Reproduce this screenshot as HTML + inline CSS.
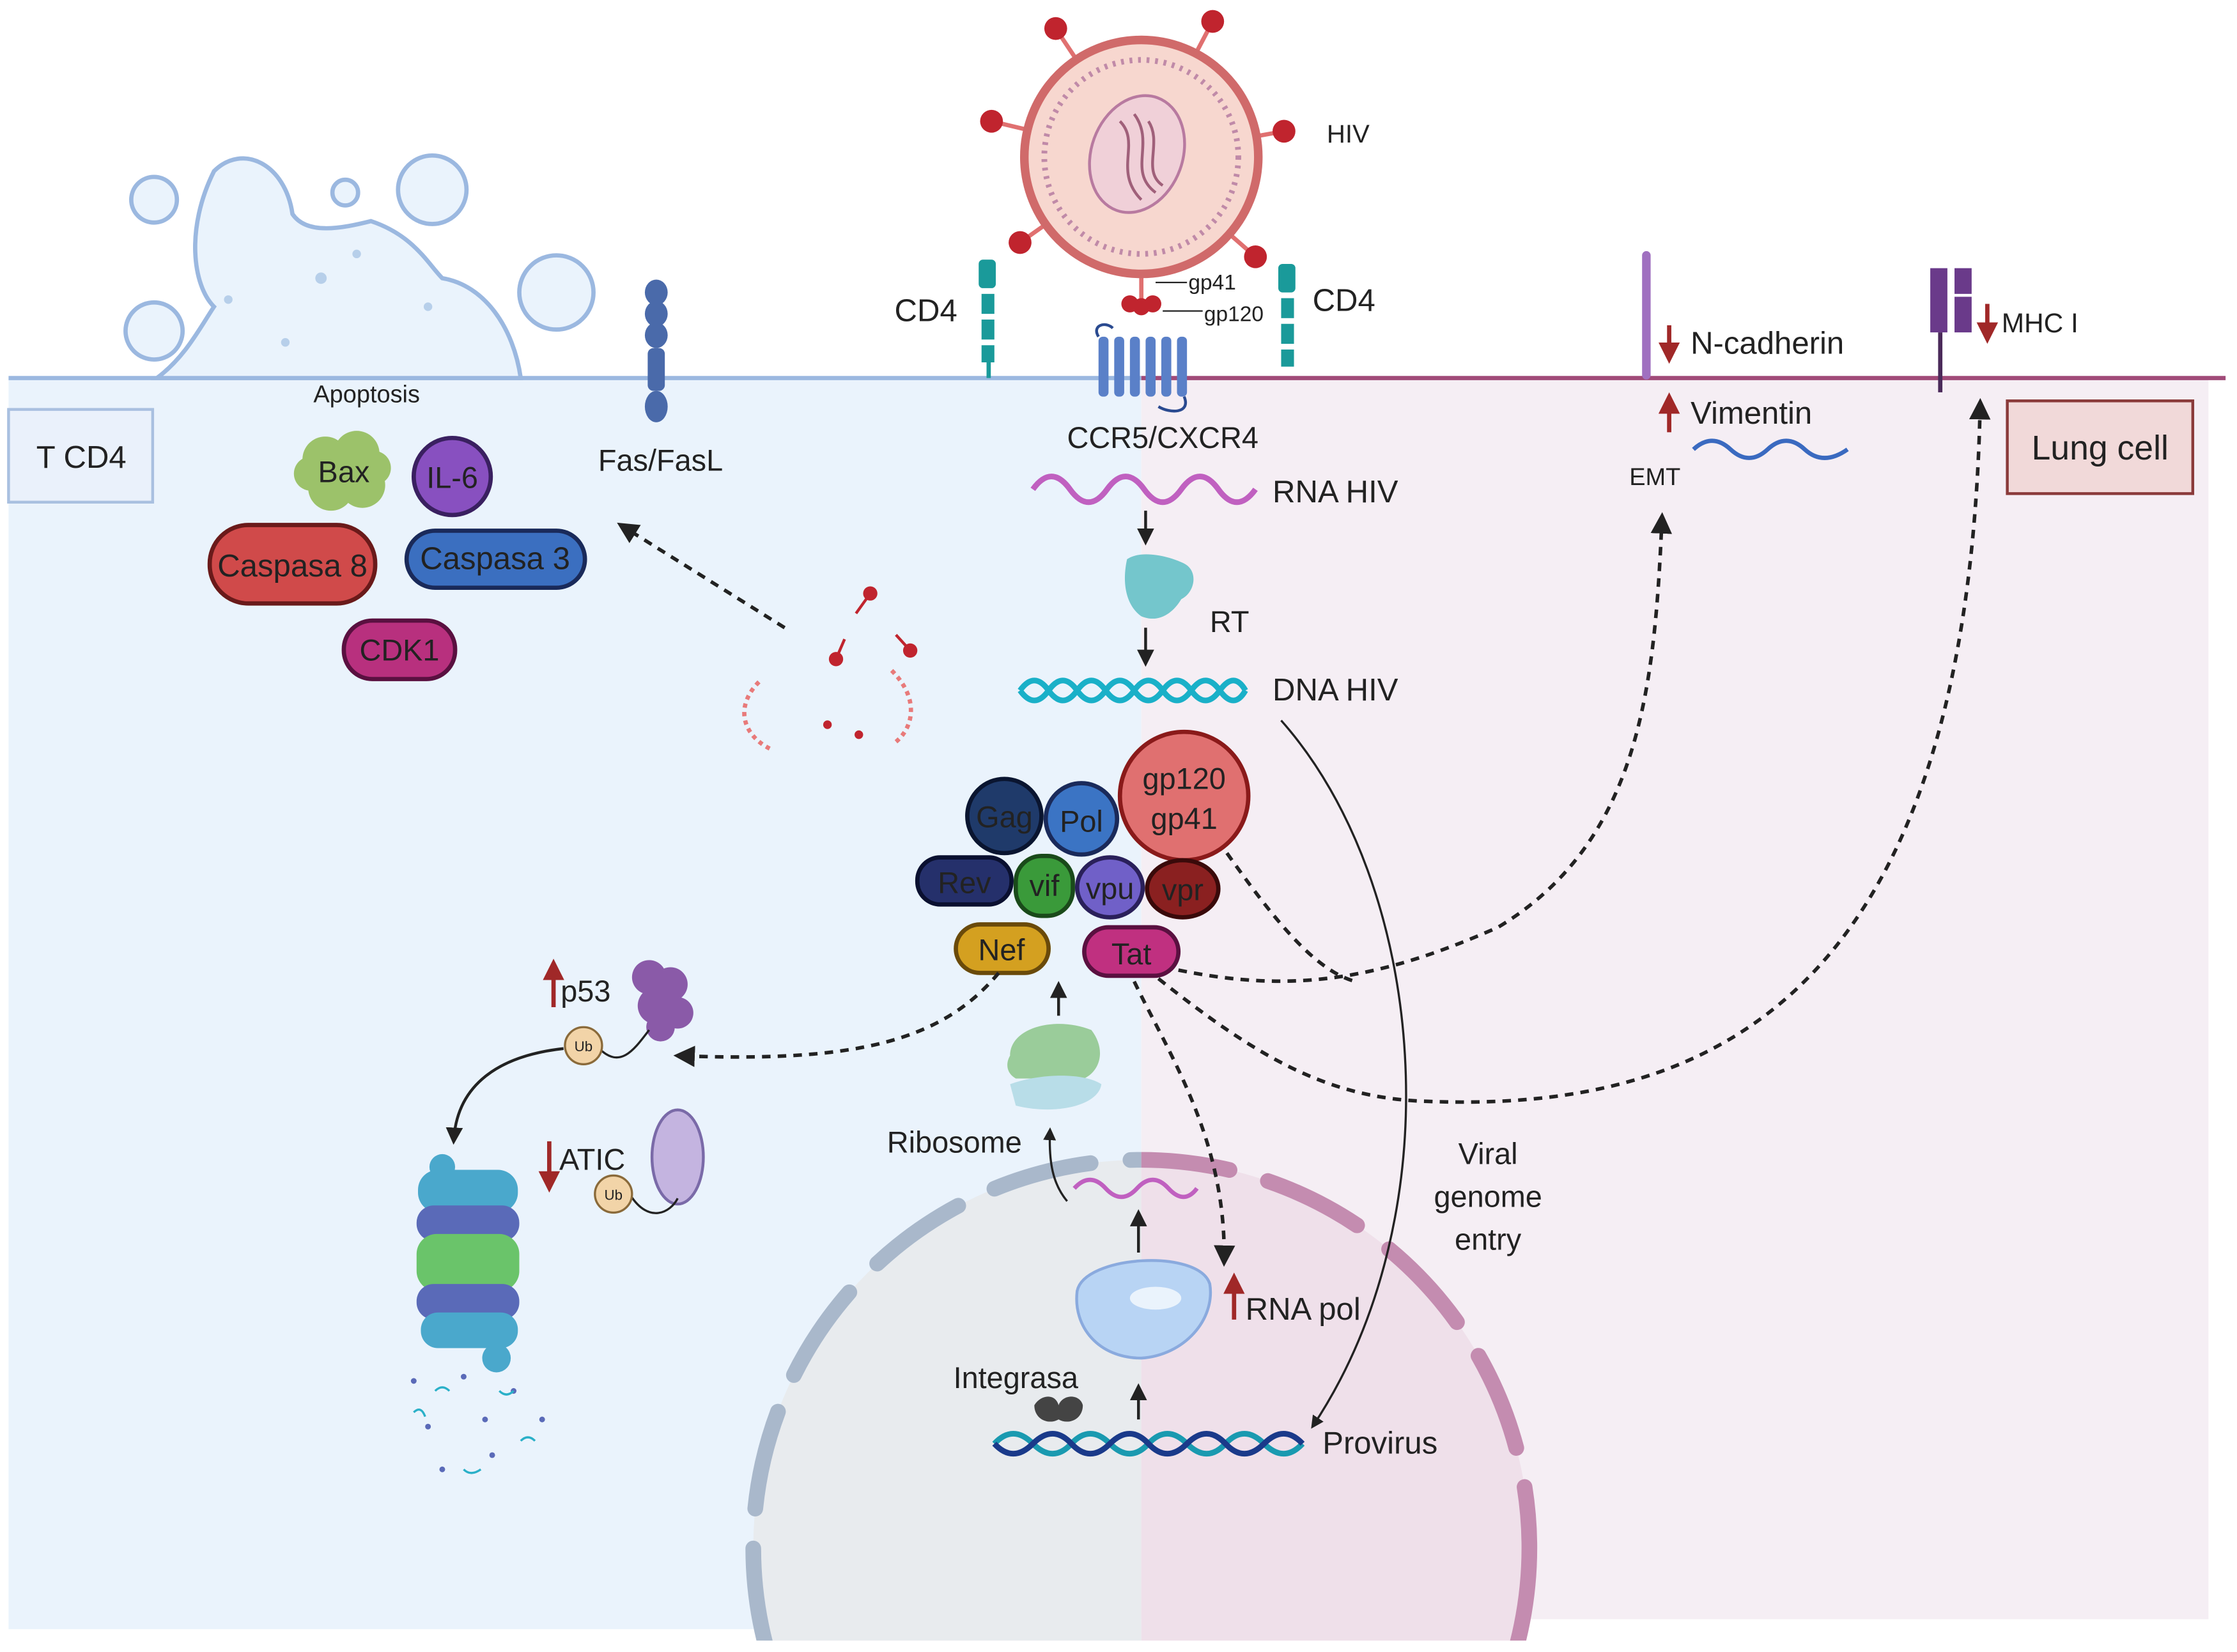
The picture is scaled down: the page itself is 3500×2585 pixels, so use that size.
<!DOCTYPE html>
<html><head><meta charset="utf-8"><style>
html,body{margin:0;padding:0;background:#fff;width:3500px;height:2585px;overflow:hidden}
svg{display:block}
text{font-family:"Liberation Sans",sans-serif}
</style></head><body>
<svg width="3500" height="2585" viewBox="0 0 1568 1158" preserveAspectRatio="none" xmlns="http://www.w3.org/2000/svg">
<defs>
<marker id="ah" viewBox="0 0 10 10" refX="8" refY="5" markerWidth="6" markerHeight="6" orient="auto-start-reverse"><path d="M0,0 L10,5 L0,10 z" fill="#222"/></marker>
<marker id="rh" viewBox="0 0 10 10" refX="8" refY="5" markerWidth="5" markerHeight="5" orient="auto"><path d="M0,0 L10,5 L0,10 z" fill="#a02828"/></marker>
<clipPath id="cl"><rect x="0" y="0" width="800" height="1158"/></clipPath>
<clipPath id="cr"><rect x="800" y="0" width="800" height="1158"/></clipPath>
<clipPath id="cb"><rect x="0" y="0" width="1568" height="1150"/></clipPath>
</defs>
<rect x="6" y="265" width="794" height="877" fill="#eaf3fc"/>
<rect x="800" y="265" width="748" height="870" fill="#f5eef4"/>
<g clip-path="url(#cb)">
<circle cx="800" cy="1085" r="272" fill="#e8ebee" clip-path="url(#cl)"/>
<circle cx="800" cy="1085" r="272" fill="#efe0ea" clip-path="url(#cr)"/>
<g clip-path="url(#cl)"><circle cx="800" cy="1085" r="272" fill="none" stroke="#a9b8cb" stroke-width="11" stroke-dasharray="70 28" stroke-linecap="round"/></g>
<g clip-path="url(#cr)"><circle cx="800" cy="1085" r="272" fill="none" stroke="#c48cb0" stroke-width="11" stroke-dasharray="70 28" stroke-linecap="round"/></g>
</g>
<line x1="6" y1="265" x2="800" y2="265" stroke="#9bb8e0" stroke-width="3"/>
<line x1="800" y1="265" x2="1560" y2="265" stroke="#a04a78" stroke-width="3"/>
<g fill="#eaf3fc" stroke="#9bb8e0" stroke-width="3">
<path d="M110,265 C130,250 140,230 150,215 C135,200 130,160 150,120 C170,100 200,115 205,150 C215,165 240,160 260,155 C290,165 300,185 310,195 C340,200 360,230 365,265 Z"/>
<circle cx="108" cy="232" r="20"/><circle cx="108" cy="140" r="16"/><circle cx="242" cy="135" r="9"/><circle cx="303" cy="133" r="24"/><circle cx="390" cy="205" r="26"/>
</g>
<g fill="#b7cfea"><circle cx="225" cy="195" r="4"/><circle cx="250" cy="178" r="3"/><circle cx="160" cy="210" r="3"/><circle cx="200" cy="240" r="3"/><circle cx="300" cy="215" r="3"/></g>
<rect x="6" y="287" width="101" height="65" fill="#eaf1fb" stroke="#a9c0e0" stroke-width="2"/>
<text x="57" y="328" font-size="22" text-anchor="middle" fill="#222">T CD4</text>
<rect x="1407" y="281" width="130" height="65" fill="#f1d9d9" stroke="#8a3a3a" stroke-width="2"/>
<text x="1472" y="322" font-size="24" text-anchor="middle" fill="#222">Lung cell</text>
<g stroke="#e07070" stroke-width="3">
<line x1="800" y1="110" x2="740" y2="20"/><line x1="800" y1="110" x2="850" y2="15"/><line x1="800" y1="110" x2="695" y2="85"/><line x1="800" y1="110" x2="900" y2="92"/><line x1="800" y1="110" x2="715" y2="170"/><line x1="800" y1="110" x2="880" y2="180"/><line x1="800" y1="110" x2="800" y2="212"/>
</g>
<circle cx="800" cy="110" r="82" fill="#f7d7cf" stroke="#d06a6a" stroke-width="6"/>
<circle cx="800" cy="110" r="68" fill="none" stroke="#c08aa8" stroke-width="4" stroke-dasharray="2 4"/>
<ellipse cx="797" cy="108" rx="32" ry="42" fill="#f0d0d8" stroke="#b87aa0" stroke-width="2" transform="rotate(20 797 108)"/>
<path d="M785,85 C800,100 780,120 800,140 M795,80 C810,100 790,120 810,135 M805,85 C815,100 800,120 815,130" stroke="#a0607a" stroke-width="2" fill="none"/>
<g fill="#c0242e"><circle cx="740" cy="20" r="8"/><circle cx="850" cy="15" r="8"/><circle cx="695" cy="85" r="8"/><circle cx="900" cy="92" r="8"/><circle cx="715" cy="170" r="8"/><circle cx="880" cy="180" r="8"/><circle cx="792" cy="213" r="6"/><circle cx="800" cy="215" r="6"/><circle cx="808" cy="213" r="6"/></g>
<text x="930" y="100" font-size="18" fill="#222">HIV</text>
<line x1="810" y1="198" x2="832" y2="198" stroke="#222"/><text x="833" y="203" font-size="15" fill="#222">gp41</text>
<line x1="815" y1="218" x2="843" y2="218" stroke="#222"/><text x="844" y="225" font-size="15" fill="#222">gp120</text>
<g fill="#1a9a9a"><rect x="686" y="182" width="12" height="20" rx="3"/><rect x="688" y="206" width="9" height="14"/><rect x="688" y="224" width="9" height="14"/><rect x="688" y="242" width="9" height="12"/><line x1="693" y1="254" x2="693" y2="265" stroke="#1a9a9a" stroke-width="3"/></g>
<g fill="#1a9a9a"><rect x="896" y="185" width="12" height="20" rx="3"/><rect x="898" y="209" width="9" height="14"/><rect x="898" y="227" width="9" height="14"/><rect x="898" y="245" width="9" height="12"/></g>
<text x="627" y="225" font-size="22" fill="#222">CD4</text>
<text x="920" y="218" font-size="22" fill="#222">CD4</text>
<g fill="#5a80c8"><rect x="770" y="236" width="7" height="42" rx="3"/><rect x="781" y="236" width="7" height="42" rx="3"/><rect x="792" y="236" width="7" height="42" rx="3"/><rect x="803" y="236" width="7" height="42" rx="3"/><rect x="814" y="236" width="7" height="42" rx="3"/><rect x="825" y="236" width="7" height="42" rx="3"/></g>
<path d="M770,236 C765,228 775,225 780,230 M830,278 C835,290 820,290 812,285" stroke="#2a4a90" stroke-width="2" fill="none"/>
<text x="815" y="314" font-size="21" text-anchor="middle" fill="#222">CCR5/CXCR4</text>
<g fill="#4a6aaa"><ellipse cx="460" cy="205" rx="8" ry="9"/><ellipse cx="460" cy="220" rx="8" ry="9"/><ellipse cx="460" cy="235" rx="8" ry="9"/><rect x="454" y="244" width="12" height="30" rx="4"/><ellipse cx="460" cy="285" rx="8" ry="11"/></g>
<text x="463" y="330" font-size="21" text-anchor="middle" fill="#222">Fas/FasL</text>
<text x="257" y="282" font-size="17" text-anchor="middle" fill="#222">Apoptosis</text>
<g fill="#9cc26a"><circle cx="228" cy="322" r="16"/><circle cx="250" cy="318" r="16"/><circle cx="232" cy="342" r="16"/><circle cx="254" cy="340" r="16"/><circle cx="240" cy="330" r="18"/><circle cx="218" cy="332" r="12"/><circle cx="262" cy="328" r="12"/></g>
<text x="241" y="338" font-size="21" text-anchor="middle" fill="#222">Bax</text>
<circle cx="317" cy="334" r="27" fill="#8850c0" stroke="#3a2060" stroke-width="3"/>
<text x="317" y="342" font-size="21" text-anchor="middle" fill="#222">IL-6</text>
<rect x="147" y="368" width="116" height="55" rx="27" fill="#d04a4a" stroke="#6a1a1a" stroke-width="3"/>
<text x="205" y="404" font-size="22" text-anchor="middle" fill="#222">Caspasa 8</text>
<rect x="285" y="372" width="125" height="40" rx="20" fill="#3b6fc0" stroke="#1a2a5a" stroke-width="3"/>
<text x="347" y="399" font-size="22" text-anchor="middle" fill="#222">Caspasa 3</text>
<rect x="241" y="435" width="78" height="41" rx="20" fill="#b8307e" stroke="#5a1040" stroke-width="3"/>
<text x="280" y="463" font-size="21" text-anchor="middle" fill="#222">CDK1</text>
<path d="M532,478 C515,495 520,515 540,525" stroke="#e87a7a" stroke-width="3" fill="none" stroke-dasharray="3 3"/>
<path d="M625,470 C645,490 640,510 628,520" stroke="#e87a7a" stroke-width="3" fill="none" stroke-dasharray="3 3"/>
<g fill="#c0242e"><circle cx="610" cy="416" r="5"/><circle cx="586" cy="462" r="5"/><circle cx="638" cy="456" r="5"/><circle cx="580" cy="508" r="3"/><circle cx="602" cy="515" r="3"/></g>
<g stroke="#c0242e" stroke-width="2"><line x1="610" y1="416" x2="600" y2="430"/><line x1="586" y1="462" x2="592" y2="448"/><line x1="638" y1="456" x2="628" y2="445"/></g>
<path d="M550,440 L435,368" stroke="#222" stroke-width="2.5" stroke-dasharray="6 5" fill="none" marker-end="url(#ah)"/>
<path d="M724,343 q13,-18 26,0 t26,0 t26,0 t26,0 t26,0 t26,0" stroke="#c060c0" stroke-width="4" fill="none"/>
<text x="892" y="352" font-size="22" fill="#222">RNA HIV</text>
<line x1="803" y1="358" x2="803" y2="380" stroke="#222" stroke-width="2" marker-end="url(#ah)"/>
<path d="M790,392 C800,385 820,390 830,395 C840,400 838,415 828,420 C822,430 812,437 800,432 C790,425 786,410 790,392 Z" fill="#74c6cc"/>
<text x="848" y="443" font-size="21" fill="#222">RT</text>
<line x1="803" y1="440" x2="803" y2="465" stroke="#222" stroke-width="2" marker-end="url(#ah)"/>
<path d="M715,484 q10,-14 20,0 t20,0 t20,0 t20,0 t20,0 t20,0 t20,0 t18,0" stroke="#1ab0c8" stroke-width="4" fill="none"/>
<path d="M715,484 q10,14 20,0 t20,0 t20,0 t20,0 t20,0 t20,0 t20,0 t18,0" stroke="#1ab0c8" stroke-width="4" fill="none"/>
<text x="892" y="491" font-size="22" fill="#222">DNA HIV</text>
<circle cx="830" cy="558" r="45" fill="#e07070" stroke="#8a1a1a" stroke-width="3"/>
<text x="830" y="553" font-size="21" text-anchor="middle" fill="#222">gp120</text>
<text x="830" y="581" font-size="21" text-anchor="middle" fill="#222">gp41</text>
<circle cx="704" cy="572" r="26" fill="#1f3a6a" stroke="#0a1530" stroke-width="3"/>
<text x="704" y="580" font-size="21" text-anchor="middle" fill="#222">Gag</text>
<circle cx="758" cy="574" r="25" fill="#3b74c4" stroke="#1a2a5a" stroke-width="3"/>
<text x="758" y="583" font-size="21" text-anchor="middle" fill="#222">Pol</text>
<rect x="643" y="601" width="66" height="33" rx="16" fill="#25306b" stroke="#0a1030" stroke-width="3"/>
<text x="676" y="626" font-size="21" text-anchor="middle" fill="#222">Rev</text>
<rect x="712" y="600" width="40" height="42" rx="18" fill="#3a9a3a" stroke="#1a4a1a" stroke-width="3"/>
<text x="732" y="628" font-size="21" text-anchor="middle" fill="#222">vif</text>
<ellipse cx="778" cy="622" rx="23" ry="21" fill="#7060c8" stroke="#2a205a" stroke-width="3"/>
<text x="778" y="630" font-size="21" text-anchor="middle" fill="#222">vpu</text>
<ellipse cx="829" cy="623" rx="25" ry="20" fill="#8a2020" stroke="#3a0a0a" stroke-width="3"/>
<text x="829" y="631" font-size="21" text-anchor="middle" fill="#222">vpr</text>
<rect x="670" y="648" width="65" height="34" rx="17" fill="#d4a020" stroke="#6a4a0a" stroke-width="3"/>
<text x="702" y="673" font-size="21" text-anchor="middle" fill="#222">Nef</text>
<rect x="760" y="650" width="66" height="34" rx="17" fill="#c03080" stroke="#5a1040" stroke-width="3"/>
<text x="793" y="676" font-size="21" text-anchor="middle" fill="#222">Tat</text>
<g stroke="#222" stroke-width="2.5" stroke-dasharray="6 5" fill="none">
<path d="M860,598 C890,640 920,680 950,688 M826,680 C900,695 960,690 1050,650 C1150,590 1160,480 1165,362" marker-end="url(#ah)"/>
<path d="M812,686 C880,740 930,770 1000,772 C1200,780 1380,700 1388,282" marker-end="url(#ah)"/>
<path d="M795,688 C820,740 860,800 858,885" marker-end="url(#ah)"/>
<path d="M700,682 C660,730 600,745 475,740" marker-end="url(#ah)"/>
</g>
<path d="M898,505 C1000,620 1020,850 920,1000" stroke="#222" stroke-width="1.5" fill="none" marker-end="url(#ah)"/>
<text x="1043" y="816" font-size="21" text-anchor="middle" fill="#222">Viral</text>
<text x="1043" y="846" font-size="21" text-anchor="middle" fill="#222">genome</text>
<text x="1043" y="876" font-size="21" text-anchor="middle" fill="#222">entry</text>
<path d="M708,740 C708,720 740,712 765,722 C775,735 772,750 760,756 L712,756 C705,752 705,745 708,740 Z" fill="#9acc9a"/>
<path d="M708,760 C730,752 760,752 772,760 C770,775 740,782 712,775 Z" fill="#b8dde8"/>
<line x1="742" y1="712" x2="742" y2="690" stroke="#222" stroke-width="2" marker-end="url(#ah)"/>
<text x="669" y="808" font-size="21" text-anchor="middle" fill="#222">Ribosome</text>
<path d="M748,842 C738,830 735,815 736,792" stroke="#222" stroke-width="1.5" fill="none" marker-end="url(#ah)"/>
<path d="M753,833 q11,-12 22,0 t22,0 t22,0 t20,0" stroke="#c060c0" stroke-width="3" fill="none"/>
<line x1="798" y1="878" x2="798" y2="850" stroke="#222" stroke-width="2" marker-end="url(#ah)"/>
<path d="M755,905 C760,880 840,875 848,900 C852,925 830,950 800,952 C770,952 752,930 755,905 Z" fill="#b8d4f4" stroke="#8aaade" stroke-width="2"/>
<ellipse cx="810" cy="910" rx="18" ry="8" fill="#eaf3fc"/>
<line x1="865" y1="925" x2="865" y2="895" stroke="#a02828" stroke-width="3" marker-end="url(#rh)"/>
<text x="873" y="925" font-size="22" fill="#222">RNA pol</text>
<line x1="798" y1="995" x2="798" y2="972" stroke="#222" stroke-width="2" marker-end="url(#ah)"/>
<text x="712" y="973" font-size="21" text-anchor="middle" fill="#222">Integrasa</text>
<path d="M725,985 c5,-8 15,-8 17,0 c3,-8 15,-8 17,0 c0,10 -10,14 -17,10 c-7,4 -17,0 -17,-10z" fill="#444"/>
<path d="M697,1012 q13,-14 27,0 t27,0 t27,0 t27,0 t27,0 t27,0 t27,0 t27,0" stroke="#1a9ab0" stroke-width="4" fill="none"/>
<path d="M697,1012 q13,14 27,0 t27,0 t27,0 t27,0 t27,0 t27,0 t27,0 t27,0" stroke="#1a3a8a" stroke-width="4" fill="none"/>
<text x="927" y="1019" font-size="22" fill="#222">Provirus</text>
<line x1="388" y1="706" x2="388" y2="675" stroke="#a02828" stroke-width="3" marker-end="url(#rh)"/>
<text x="393" y="702" font-size="21" fill="#222">p53</text>
<g fill="#8a5aa8"><circle cx="455" cy="685" r="12"/><circle cx="470" cy="690" r="12"/><circle cx="460" cy="705" r="13"/><circle cx="475" cy="710" r="11"/><circle cx="463" cy="720" r="10"/></g>
<path d="M420,735 C435,750 445,735 455,722" stroke="#222" stroke-width="1.5" fill="none"/>
<circle cx="409" cy="733" r="13" fill="#f2d4a8" stroke="#8a6a3a" stroke-width="1.5"/>
<text x="409" y="737" font-size="10" text-anchor="middle" fill="#222">Ub</text>
<path d="M395,735 C350,740 320,760 318,800" stroke="#222" stroke-width="2" fill="none" marker-end="url(#ah)"/>
<line x1="385" y1="800" x2="385" y2="833" stroke="#a02828" stroke-width="3" marker-end="url(#rh)"/>
<text x="392" y="820" font-size="21" fill="#222">ATIC</text>
<ellipse cx="475" cy="811" rx="18" ry="33" fill="#c4b4e0" stroke="#7a6aa8" stroke-width="2"/>
<path d="M442,838 C455,858 470,850 475,840" stroke="#222" stroke-width="1.5" fill="none"/>
<circle cx="430" cy="837" r="13" fill="#f2d4a8" stroke="#8a6a3a" stroke-width="1.5"/>
<text x="430" y="841" font-size="10" text-anchor="middle" fill="#222">Ub</text>
<g>
<rect x="293" y="820" width="70" height="30" rx="14" fill="#4aa8cc"/>
<rect x="292" y="845" width="72" height="25" rx="12" fill="#5a6ab8"/>
<rect x="292" y="865" width="72" height="40" rx="14" fill="#6ac46a"/>
<rect x="292" y="900" width="72" height="25" rx="12" fill="#5a6ab8"/>
<rect x="295" y="920" width="68" height="25" rx="12" fill="#4aa8cc"/>
<circle cx="310" cy="818" r="9" fill="#4aa8cc"/>
<circle cx="348" cy="952" r="10" fill="#4aa8cc"/>
</g>
<g fill="#5a6ab8"><circle cx="290" cy="968" r="2"/><circle cx="325" cy="965" r="2"/><circle cx="360" cy="975" r="2"/><circle cx="300" cy="1000" r="2"/><circle cx="340" cy="995" r="2"/><circle cx="380" cy="995" r="2"/><circle cx="310" cy="1030" r="2"/><circle cx="345" cy="1020" r="2"/></g>
<g stroke="#2ab0c8" stroke-width="1.5" fill="none"><path d="M305,975 q5,-5 10,0"/><path d="M350,975 q5,5 10,0"/><path d="M290,990 q5,-5 8,3"/><path d="M365,1010 q5,-5 10,0"/><path d="M325,1030 q5,5 12,0"/></g>
<g fill="#a070c0"><rect x="1151" y="176" width="6" height="90" rx="3"/></g>
<line x1="1170" y1="228" x2="1170" y2="252" stroke="#a02828" stroke-width="3" marker-end="url(#rh)"/>
<text x="1185" y="248" font-size="22" fill="#222">N-cadherin</text>
<line x1="1170" y1="303" x2="1170" y2="278" stroke="#a02828" stroke-width="3" marker-end="url(#rh)"/>
<text x="1185" y="297" font-size="22" fill="#222">Vimentin</text>
<path d="M1187,315 q13,-12 26,0 t26,0 t26,0 t30,0" stroke="#3a6ac0" stroke-width="3" fill="none"/>
<text x="1160" y="340" font-size="17" text-anchor="middle" fill="#222">EMT</text>
<path d="M1353,188 h12 v45 h-12z M1370,188 h12 v18 h-12z M1370,208 h12 v25 h-12z" fill="#6a3a8a"/>
<line x1="1360" y1="233" x2="1360" y2="275" stroke="#4a2a5a" stroke-width="3"/>
<line x1="1393" y1="213" x2="1393" y2="238" stroke="#a02828" stroke-width="3" marker-end="url(#rh)"/>
<text x="1403" y="233" font-size="19" fill="#222">MHC I</text>
</svg>
</body></html>
